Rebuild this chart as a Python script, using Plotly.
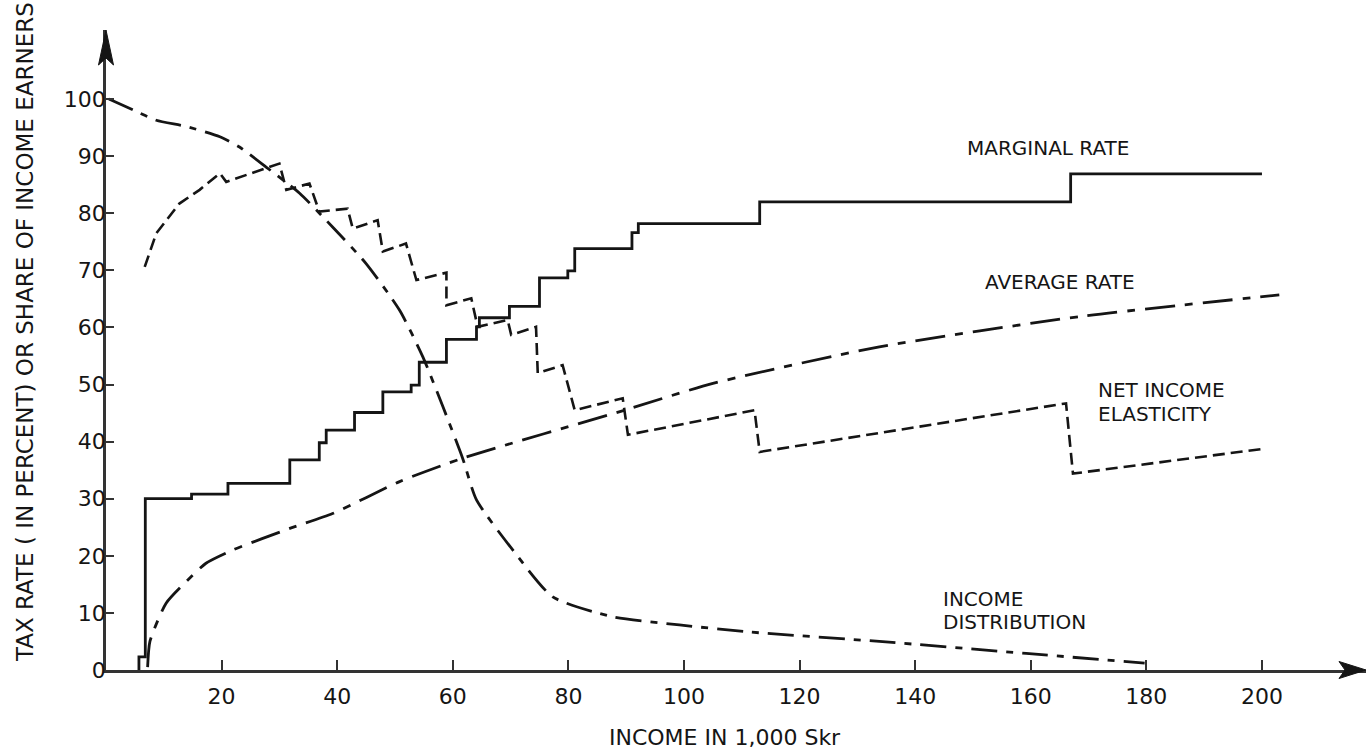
import plotly.graph_objects as go

# ---------------- data ----------------
# Marginal tax rate: bracket start (income, 1,000 Skr) and the rate that applies from there
marg_start = [5.7, 6.8, 14.8, 21.1, 31.8, 36.9, 38.1, 43.0, 47.9, 52.8, 54.2, 58.9,
              64.1, 64.6, 69.8, 75.0, 79.9, 81.1, 91.0, 92.1, 113.1, 166.9]
marg_rate = [2.3, 30.0, 30.8, 32.7, 36.8, 39.8, 42.0, 45.1, 48.7, 49.9, 53.9, 57.9,
             60.1, 61.7, 63.7, 68.7, 69.9, 73.8, 76.6, 78.2, 82.0, 86.9]
marg_end = 200.0

# Average tax rate
avg_x = [7.2, 7.6, 10.4, 14.2, 17.3, 21.9, 31.8, 39.2, 50.8, 61.7, 89.7, 105.0, 133.8, 168.4, 203.0]
avg_y = [0.5, 5.0, 11.7, 15.8, 18.7, 21.0, 24.8, 27.4, 33.0, 37.1, 45.5, 50.2, 56.6, 61.9, 65.7]

# Net income elasticity
ela_x = [6.7, 8.7, 12.7, 16.2, 19.7, 20.8, 30.0, 31.2, 35.2, 36.9, 41.8, 42.7, 47.0, 47.9,
         51.9, 53.7, 58.9, 58.9, 63.2, 64.3, 69.5, 70.1, 74.4, 74.7, 79.0, 81.1, 89.4, 90.3,
         112.2, 113.1, 166.1, 167.3, 200.7]
ela_y = [70.6, 76.5, 81.7, 84.1, 87.0, 85.5, 88.7, 84.1, 85.2, 80.3, 80.8, 77.3, 78.8, 73.3,
         74.7, 68.3, 69.6, 63.9, 65.1, 60.1, 61.3, 58.7, 60.1, 52.0, 53.4, 45.5, 47.6, 41.2,
         45.5, 38.2, 46.7, 34.4, 38.8]

# Income distribution (share of income earners above the income level)
dist_x = [0.5, 4.7, 8.7, 13.9, 19.7, 23.1, 27.7, 33.5, 39.2, 45.0, 50.8, 54.8, 58.3, 61.7,
          64.1, 70.4, 77.3, 87.7, 99.2, 110.8, 133.8, 159.2, 179.7]
dist_y = [100.0, 98.1, 96.3, 95.2, 93.4, 91.6, 88.1, 83.5, 77.6, 71.2, 63.0, 54.9, 46.1, 37.1,
          29.8, 21.0, 12.8, 9.3, 7.9, 6.7, 5.0, 2.9, 1.2]

x_ticks = [20, 40, 60, 80, 100, 120, 140, 160, 180, 200]
y_ticks = [0, 10, 20, 30, 40, 50, 60, 70, 80, 90, 100]

labels = [  # text, x, y
    ("MARGINAL RATE", 148.7, 91.4),
    ("AVERAGE RATE", 151.7, 68.0),
    ("NET INCOME", 171.3, 49.0),
    ("ELASTICITY", 171.3, 44.9),
    ("INCOME", 144.5, 12.5),
    ("DISTRIBUTION", 144.5, 8.4),
]

# ---------------- build ----------------
FONT = "DejaVu Sans"
INK = "#151515"

# step path of the marginal rate from the bracket data
mx, my = [], []
prev = 0.0
for s, r in zip(marg_start, marg_rate):
    mx += [s, s]
    my += [prev, r]
    prev = r
mx.append(marg_end)
my.append(prev)

fig = go.Figure()
fig.add_trace(go.Scatter(x=mx, y=my, mode="lines",
                         line=dict(color=INK, width=2.8), name="Marginal rate"))
fig.add_trace(go.Scatter(x=avg_x, y=avg_y, mode="lines",
                         line=dict(color=INK, width=2.8, dash="30px,10px,8px,10px",
                                   shape="spline", smoothing=0.6), name="Average rate"))
fig.add_trace(go.Scatter(x=ela_x, y=ela_y, mode="lines",
                         line=dict(color=INK, width=2.6, dash="12px,6px"),
                         name="Net income elasticity"))
fig.add_trace(go.Scatter(x=dist_x, y=dist_y, mode="lines",
                         line=dict(color=INK, width=2.8, dash="26px,9px,7px,9px",
                                   shape="spline", smoothing=0.6), name="Income distribution"))

annotations = []
for t, x, y in labels:
    annotations.append(dict(text=t, x=x, y=y, xref="x", yref="y", xanchor="left",
                            yanchor="middle", showarrow=False,
                            font=dict(family=FONT, size=20, color=INK)))
annotations.append(dict(text="INCOME IN 1,000 Skr", x=0.491, y=-0.105, xref="paper",
                        yref="paper", xanchor="center", yanchor="middle", showarrow=False,
                        font=dict(family=FONT, size=22, color=INK)))
annotations.append(dict(text="TAX RATE ( IN PERCENT) OR SHARE OF INCOME EARNERS",
                        x=-0.0643, y=0.528, xref="paper", yref="paper", textangle=-90,
                        xanchor="center", yanchor="middle", showarrow=False,
                        font=dict(family=FONT, size=23, color=INK)))

PW, PH = 1260.0, 640.0
shapes = [
    # arrowhead on the x axis
    dict(type="path", xref="paper", yref="paper",
         path=f"M 1 0 L {1-27/PW} {8.5/PH} L {1-21/PW} 0 L {1-27/PW} {-8.5/PH} Z",
         fillcolor=INK, line=dict(color=INK, width=1)),
    # arrowhead on the y axis
    dict(type="path", xref="paper", yref="paper",
         path=f"M 0 1 L {-7.5/PW} {1-35/PH} L 0 {1-28/PH} L {7.5/PW} {1-35/PH} Z",
         fillcolor=INK, line=dict(color=INK, width=1)),
]

fig.update_layout(
    width=1368, height=755,
    margin=dict(l=106, r=2, t=30, b=85),
    paper_bgcolor="white", plot_bgcolor="white",
    showlegend=False,
    annotations=annotations,
    shapes=shapes,
    font=dict(family=FONT, color=INK),
)
fig.update_xaxes(range=[0, 218], tickvals=x_ticks, ticktext=[str(v) for v in x_ticks],
                 showgrid=False, zeroline=False, showline=True, linecolor="#333",
                 linewidth=2.5, ticks="inside", ticklen=10, tickwidth=1.5, tickcolor="#333",
                 tickfont=dict(family=FONT, size=22, color=INK), ticklabelstandoff=5)
fig.update_yaxes(range=[0, 112.1], tickvals=y_ticks, ticktext=[str(v) for v in y_ticks],
                 showgrid=False, zeroline=False, showline=True, linecolor="#333",
                 linewidth=2.5, ticks="inside", ticklen=8, tickwidth=1.5, tickcolor="#333",
                 tickfont=dict(family=FONT, size=22, color=INK), ticklabelstandoff=-7)

fig.write_html("out.html")
